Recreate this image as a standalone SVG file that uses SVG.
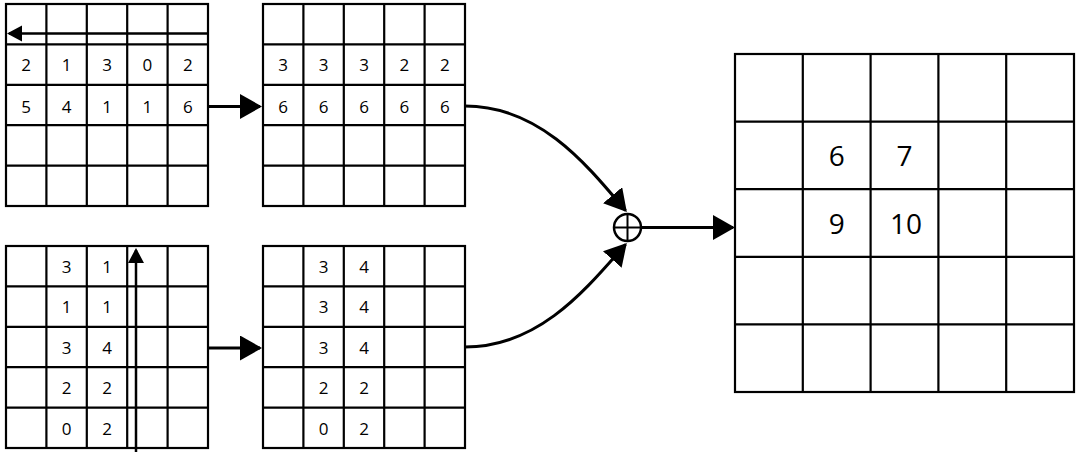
<svg xmlns="http://www.w3.org/2000/svg" width="1080" height="454" viewBox="0 0 1080 454">
<style>
.g{fill:#fff;stroke:#000;stroke-width:2.2}
.l{stroke:#000;stroke-width:2.2}
.t{font-family:"Open Sans","Liberation Sans",sans-serif;font-size:17px;text-anchor:middle;fill:#000}
.T{font-family:"Open Sans","Liberation Sans",sans-serif;font-size:28px;text-anchor:middle;fill:#000}
.c{fill:none;stroke:#000;stroke-width:3}
.s{fill:none;stroke:#000;stroke-width:2.5}
</style>
<defs>
<marker id="big" markerUnits="userSpaceOnUse" markerWidth="24" markerHeight="26" refX="20" refY="12.5" orient="auto"><path d="M0,0 L22,12.5 L0,25 Z" fill="#000"/></marker>
<marker id="small" markerUnits="userSpaceOnUse" markerWidth="16" markerHeight="18" refX="13" refY="8" orient="auto"><path d="M0,0 L15,8 L0,16 Z" fill="#000"/></marker>
</defs>
<rect width="1080" height="454" fill="#fff"/>

<g id="grid1">
<rect class="g" x="6" y="4" width="202" height="202"/>
<path class="l" d="M46.4,4V206M86.8,4V206M127.2,4V206M167.6,4V206M6,44.4H208M6,84.8H208M6,125.2H208M6,165.6H208"/>
<text class="t" x="26.2" y="71">2</text><text class="t" x="66.6" y="71">1</text><text class="t" x="107" y="71">3</text><text class="t" x="147.4" y="71">0</text><text class="t" x="187.8" y="71">2</text>
<text class="t" x="26.2" y="112.5">5</text><text class="t" x="66.6" y="112.5">4</text><text class="t" x="107" y="112.5">1</text><text class="t" x="147.4" y="112.5">1</text><text class="t" x="187.8" y="112.5">6</text>
<line class="s" x1="208" y1="33.5" x2="9" y2="33.5" marker-end="url(#small)"/>
</g>

<g id="grid2">
<rect class="g" x="263" y="4" width="202" height="202"/>
<path class="l" d="M303.4,4V206M343.8,4V206M384.2,4V206M424.6,4V206M263,44.4H465M263,84.8H465M263,125.2H465M263,165.6H465"/>
<text class="t" x="283.2" y="71">3</text><text class="t" x="323.6" y="71">3</text><text class="t" x="364" y="71">3</text><text class="t" x="404.4" y="71">2</text><text class="t" x="444.8" y="71">2</text>
<text class="t" x="283.2" y="112.5">6</text><text class="t" x="323.6" y="112.5">6</text><text class="t" x="364" y="112.5">6</text><text class="t" x="404.4" y="112.5">6</text><text class="t" x="444.8" y="112.5">6</text>
</g>

<g id="grid3">
<rect class="g" x="6" y="246" width="202" height="202"/>
<path class="l" d="M46.4,246V448M86.8,246V448M127.2,246V448M167.6,246V448M6,286.4H208M6,326.8H208M6,367.2H208M6,407.6H208"/>
<text class="t" x="66.6" y="272.5">3</text><text class="t" x="107" y="272.5">1</text>
<text class="t" x="66.6" y="313">1</text><text class="t" x="107" y="313">1</text>
<text class="t" x="66.6" y="353.5">3</text><text class="t" x="107" y="353.5">4</text>
<text class="t" x="66.6" y="394">2</text><text class="t" x="107" y="394">2</text>
<text class="t" x="66.6" y="434.5">0</text><text class="t" x="107" y="434.5">2</text>
<line class="s" x1="136" y1="452" x2="136" y2="250" marker-end="url(#small)"/>
</g>

<g id="grid4">
<rect class="g" x="263" y="246" width="202" height="202"/>
<path class="l" d="M303.4,246V448M343.8,246V448M384.2,246V448M424.6,246V448M263,286.4H465M263,326.8H465M263,367.2H465M263,407.6H465"/>
<text class="t" x="323.6" y="272.5">3</text><text class="t" x="364" y="272.5">4</text>
<text class="t" x="323.6" y="313">3</text><text class="t" x="364" y="313">4</text>
<text class="t" x="323.6" y="353.5">3</text><text class="t" x="364" y="353.5">4</text>
<text class="t" x="323.6" y="394">2</text><text class="t" x="364" y="394">2</text>
<text class="t" x="323.6" y="434.5">0</text><text class="t" x="364" y="434.5">2</text>
</g>

<g id="sum">
<circle cx="627.5" cy="227.5" r="13.5" fill="#fff" stroke="#000" stroke-width="2.5"/>
<path d="M614,227.5H641M627.5,214V241" stroke="#000" stroke-width="2"/>
</g>

<g id="grid5">
<rect class="g" x="735" y="54" width="339" height="338"/>
<path class="l" d="M802.8,54V392M870.6,54V392M938.4,54V392M1006.2,54V392M735,121.6H1074M735,189.2H1074M735,256.8H1074M735,324.4H1074"/>
<text class="T" x="836.7" y="166">6</text><text class="T" x="904.5" y="166">7</text>
<text class="T" x="836.7" y="234">9</text><text class="T" x="906" y="234">10</text>
</g>

<g id="connectors">
<line class="c" x1="208" y1="106.5" x2="260" y2="106.5" marker-end="url(#big)"/>
<line class="c" x1="208" y1="348" x2="260" y2="348" marker-end="url(#big)"/>
<path class="c" d="M465,106 C540,106 587,165 625.5,210.5" marker-end="url(#big)"/>
<path class="c" d="M465,347 C540,347 587,288 625.5,244.5" marker-end="url(#big)"/>
<line class="c" x1="641" y1="227.5" x2="733" y2="227.5" marker-end="url(#big)"/>
</g>
</svg>
